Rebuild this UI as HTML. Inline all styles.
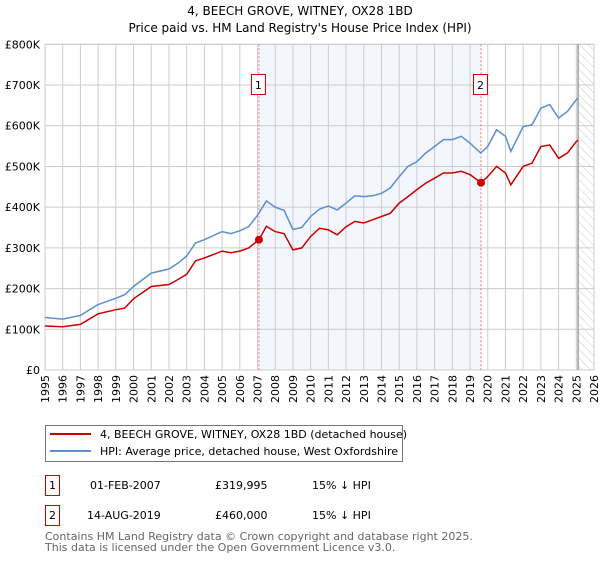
<!DOCTYPE html>
<html><head><meta charset="utf-8"><style>
body{margin:0;background:#fff;font-family:"DejaVu Sans","Liberation Sans",sans-serif;}
svg text{font-family:"DejaVu Sans","Liberation Sans",sans-serif;}
</style></head><body>
<svg id="chart" width="600" height="560" xmlns="http://www.w3.org/2000/svg">
<defs><pattern id="hatch" width="6" height="6" patternUnits="userSpaceOnUse" patternTransform="rotate(-45)"><line x1="0" y1="0" x2="0" y2="6" stroke="#ccc" stroke-width="1"/></pattern></defs>
<text x="300" y="15" text-anchor="middle" font-size="12">4, BEECH GROVE, WITNEY, OX28 1BD</text>
<text x="300" y="32" text-anchor="middle" font-size="12">Price paid vs. HM Land Registry's House Price Index (HPI)</text>
<g id="grid"></g>
<g id="marks"></g>
<g id="axes"></g>
<rect x="45.5" y="425.5" width="357" height="36" fill="#fff" stroke="#777"/>
<line x1="50" y1="434" x2="91" y2="434" stroke="#cc0000" stroke-width="2"/>
<text x="100" y="438" font-size="11">4, BEECH GROVE, WITNEY, OX28 1BD (detached house)</text>
<line x1="50" y1="451" x2="91" y2="451" stroke="#5b8fd0" stroke-width="2"/>
<text x="100" y="455" font-size="11">HPI: Average price, detached house, West Oxfordshire</text>
<g>
<rect x="45.5" y="475.5" width="14" height="20" fill="#fff" stroke="#cc0000"/>
<text x="52.5" y="489" text-anchor="middle" font-size="11">1</text>
<text x="90" y="489" font-size="11">01-FEB-2007</text>
<text x="215" y="489" font-size="11">£319,995</text>
<text x="312" y="489" font-size="11">15% ↓ HPI</text>
</g>
<g>
<rect x="45.5" y="505.5" width="14" height="20" fill="#fff" stroke="#cc0000"/>
<text x="52.5" y="519" text-anchor="middle" font-size="11">2</text>
<text x="87" y="519" font-size="11">14-AUG-2019</text>
<text x="215" y="519" font-size="11">£460,000</text>
<text x="312" y="519" font-size="11">15% ↓ HPI</text>
</g>
<text x="45" y="540" font-size="11" fill="#666">Contains HM Land Registry data © Crown copyright and database right 2025.</text>
<text x="45" y="551" font-size="11" fill="#666">This data is licensed under the Open Government Licence v3.0.</text>
</svg>
<script>
const hpiYears=[1995,1996,1997,1998,1999,1999.5,2000,2001,2002,2002.5,2003,2003.5,2004,2005,2005.5,2006,2006.5,2007,2007.5,2008,2008.5,2009,2009.5,2010,2010.5,2011,2011.5,2012,2012.5,2013,2013.5,2014,2014.5,2015,2015.5,2016,2016.5,2017,2017.5,2018,2018.5,2019,2019.6,2020,2020.5,2021,2021.3,2022,2022.5,2023,2023.5,2024,2024.5,2025,2025.1];
const hpiValues=[129,125,134,161,176,185,205,238,248,262,280,312,320,340,335,342,352,380,415,400,392,345,350,377,395,403,393,410,428,426,428,434,447,475,500,512,533,549,566,566,574,557,533,549,590,574,537,598,602,643,652,619,635,664,668];
const ppYears=[1995,1996,1997,1998,1999,1999.5,2000,2001,2002,2002.5,2003,2003.5,2004,2005,2005.5,2006,2006.5,2007.08,2007.5,2008,2008.5,2009,2009.5,2010,2010.5,2011,2011.5,2012,2012.5,2013,2013.5,2014,2014.5,2015,2015.5,2016,2016.5,2017,2017.5,2018,2018.5,2019,2019.62,2020,2020.5,2021,2021.3,2022,2022.5,2023,2023.5,2024,2024.5,2025,2025.1];
const ppValues=[108,106,112,138,148,152,175,205,210,222,235,268,275,292,288,292,300,320,353,340,335,295,300,328,348,344,332,352,365,361,369,377,385,410,426,443,459,471,484,484,488,480,460,475,500,484,455,500,508,549,553,520,533,561,565];
const saleYears=[2007.08,2019.62];
const saleValues=[319.995,460];
const saleLabels=["1","2"];
const yTicks=[0,100,200,300,400,500,600,700,800];
const yTickLabels=["£0","£100K","£200K","£300K","£400K","£500K","£600K","£700K","£800K"];
const xTicks=[1995,1996,1997,1998,1999,2000,2001,2002,2003,2004,2005,2006,2007,2008,2009,2010,2011,2012,2013,2014,2015,2016,2017,2018,2019,2020,2021,2022,2023,2024,2025,2026];
const dataEnd=2025.1;
const X0=45,X1=594,Y0=370,Y1=44.3;
const xs=v=>X0+(v-1995)/(2026-1995)*(X1-X0);
const ys=v=>Y0-v/800*(Y0-Y1);
const NS="http://www.w3.org/2000/svg";
function mk(tag,attrs,parent){const e=document.createElementNS(NS,tag);for(const k in attrs)e.setAttribute(k,attrs[k]);parent.appendChild(e);return e;}
const grid=document.getElementById('grid'),marks=document.getElementById('marks'),axes=document.getElementById('axes');
// shaded ownership region
let sh=mk('rect',{x:xs(saleYears[0]),y:Y1,width:xs(saleYears[1])-xs(saleYears[0]),height:Y0-Y1,fill:'#eef2fc',opacity:0.7},grid);


let ht=mk('rect',{x:xs(dataEnd),y:Y1,width:X1-xs(dataEnd),height:Y0-Y1,fill:'url(#hatch)'},grid);


yTicks.forEach((t,i)=>{
  let l=mk('line',{x1:X0,x2:X1,y1:ys(t),y2:ys(t),stroke:'#ccc','stroke-width':1},grid);
  
  
  let tx=mk('text',{x:40,y:ys(t)+4,'text-anchor':'end','font-size':11},axes);
  tx.textContent=yTickLabels[i];
  
  
});
xTicks.forEach(t=>{
  let l=mk('line',{x1:xs(t),x2:xs(t),y1:Y1,y2:Y0,stroke:'#ccc','stroke-width':1},grid);
  
  
  let tx=mk('text',{x:0,y:0,'text-anchor':'end','font-size':11,transform:`translate(${xs(t)+4},${Y0+5}) rotate(-90)`},axes);
  tx.textContent=t;
  
  
});
let fr=mk('rect',{x:X0,y:Y1,width:X1-X0,height:Y0-Y1,fill:'none',stroke:'#ccc'},grid);


let el=mk('line',{x1:xs(dataEnd),x2:xs(dataEnd),y1:Y1,y2:Y0,stroke:'#888','stroke-width':1.2},grid);


saleYears.forEach((y,i)=>{
  let l=mk('line',{x1:xs(y),x2:xs(y),y1:Y1,y2:Y0,stroke:'#e87878','stroke-dasharray':'2,2','stroke-width':1},grid);
  
  
  let r=mk('rect',{x:xs(y)-7.5,y:74.5,width:14,height:20,fill:'#fff',stroke:'#cc0000'},marks);
  
  
  let tx=mk('text',{x:xs(y)-0.5,y:89,'text-anchor':'middle','font-size':11},marks);
  tx.textContent=saleLabels[i];
  
  
});
function path(xv,yv,color,name){
  let d=xv.map((x,i)=>(i?'L':'M')+xs(x).toFixed(1)+','+ys(yv[i]).toFixed(1)).join('');
  let p=mk('path',{d:d,fill:'none',stroke:color,'stroke-width':1.5},marks);
  
  
}
path(hpiYears,hpiValues,'#5b8fd0','hpi-line');
path(ppYears,ppValues,'#cc0000','price-paid-line');
saleYears.forEach((y,i)=>{
  let c=mk('circle',{cx:xs(y),cy:ys(saleValues[i]),r:4,fill:'#cc0000'},marks);
  
  
});
</script>
</body></html>
